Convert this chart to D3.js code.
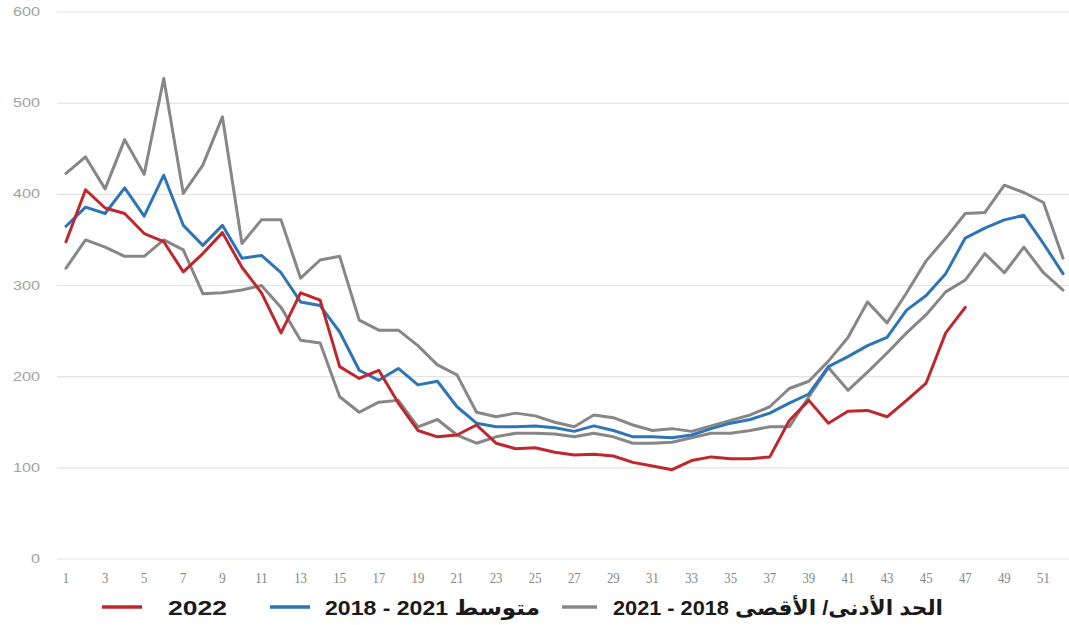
<!DOCTYPE html>
<html>
<head>
<meta charset="utf-8">
<script src="https://cdn.jsdelivr.net/npm/d3@7"></script>
<style>
  html, body { margin: 0; padding: 0; background: #ffffff; }
  svg { display: block; }
</style>
</head>
<body>
<svg id="chart" width="1069" height="625"></svg>
<script>
const weeks = d3.range(1, 53);
const yTicks = [0, 100, 200, 300, 400, 500, 600];
const xTickLabels = d3.range(1, 52, 2);

const series2022 = [348, 405, 385, 379, 357, 348, 315, 335, 358, 320, 292, 248, 292, 284, 211, 198, 207, 171, 141, 134,
  136, 147, 127, 121, 122, 117, 114, 115, 113, 106, 102, 98, 108, 112, 110, 110, 112, 152, 174, 149,
  162, 163, 156, 174, 193, 248, 276];

const seriesAvg = [365, 386, 379, 407, 376, 421, 366, 344, 366, 330, 333, 314, 282, 278, 249, 207, 196, 209, 191, 195,
  167, 149, 145, 145, 146, 144, 140, 146, 141, 134, 134, 133, 136, 143, 149, 153, 160, 171, 181, 211,
  222, 234, 243, 273, 289, 313, 352, 363, 372, 377, 346, 313];

const seriesMax = [423, 441, 406, 460, 422, 527, 401, 432, 485, 346, 372, 372, 308, 328, 332, 262, 251, 251, 234, 213,
  202, 161, 156, 160, 157, 150, 145, 158, 155, 147, 141, 143, 140, 146, 152, 158, 167, 187, 195, 217,
  243, 282, 259, 292, 327, 352, 379, 380, 410, 402, 391, 330];

const seriesMin = [319, 350, 342, 332, 332, 350, 339, 291, 292, 295, 300, 276, 240, 237, 178, 161, 172, 174, 145, 153,
  136, 127, 134, 138, 138, 137, 134, 138, 134, 127, 127, 128, 133, 138, 138, 141, 145, 145, 178, 210,
  185, 205, 226, 248, 268, 293, 306, 335, 314, 342, 314, 295];

const legendLabels = ["2022", "متوسط 2021 - 2018", "الحد الأدنى/ الأقصى 2018 - 2021"];

const colors = { red: "#c0272d", blue: "#2e75b6", gray: "#878787" };

const svg = d3.select("#chart");
const x = d3.scaleLinear().domain([1, 52]).range([66, 1063]);
const y = d3.scaleLinear().domain([0, 600]).range([559, 12]);

// gridlines
svg.append("g").selectAll("line").data(yTicks).join("line")
  .attr("x1", 57).attr("x2", 1069)
  .attr("y1", d => y(d)).attr("y2", d => y(d))
  .attr("stroke", "#e3e3e3").attr("stroke-width", 1.2);

// y labels
svg.append("g").selectAll("text").data(yTicks).join("text")
  .attr("transform", d => `translate(40,${y(d) + 4}) scale(1.35,1)`)
  .attr("text-anchor", "end")
  .attr("font-family", "Liberation Sans, Arial, sans-serif")
  .attr("font-size", 12)
  .attr("fill", "#a3a3a3")
  .text(d => d);

// x labels
svg.append("g").selectAll("text").data(xTickLabels).join("text")
  .attr("transform", d => `translate(${x(d)},583) scale(0.85,1)`)
  .attr("text-anchor", "middle")
  .attr("font-family", "Liberation Serif, Times New Roman, serif")
  .attr("font-size", 15)
  .attr("fill", "#858585")
  .text(d => d);

const line = d3.line().x((d, i) => x(weeks[i])).y(d => y(d));

function drawLine(data, color) {
  svg.append("path").datum(data)
    .attr("fill", "none")
    .attr("stroke", color)
    .attr("stroke-width", 3)
    .attr("stroke-linejoin", "round")
    .attr("stroke-linecap", "round")
    .attr("d", line);
}
drawLine(seriesMax, colors.gray);
drawLine(seriesMin, colors.gray);
drawLine(seriesAvg, colors.blue);
drawLine(series2022, colors.red);

// legend
const lg = svg.append("g");
const legY = 607;
const legFont = "Liberation Sans, DejaVu Sans, Arial, sans-serif";
lg.append("line").attr("x1", 102).attr("x2", 142).attr("y1", legY).attr("y2", legY)
  .attr("stroke", colors.red).attr("stroke-width", 3.5);
lg.append("text").attr("x", 168).attr("y", legY + 8)
  .attr("font-family", legFont).attr("font-weight", "bold").attr("font-size", 21).attr("fill", "#1a1a1a")
  .attr("textLength", 59).attr("lengthAdjust", "spacingAndGlyphs")
  .text(legendLabels[0]);

lg.append("line").attr("x1", 270).attr("x2", 310).attr("y1", legY).attr("y2", legY)
  .attr("stroke", colors.blue).attr("stroke-width", 3.5);
lg.append("text").attr("x", 540).attr("y", legY + 8)
  .attr("direction", "rtl").attr("text-anchor", "start")
  .attr("font-family", legFont).attr("font-weight", "bold").attr("font-size", 21).attr("fill", "#1a1a1a")
  .attr("textLength", 215).attr("lengthAdjust", "spacingAndGlyphs")
  .text(legendLabels[1]);

lg.append("line").attr("x1", 562).attr("x2", 597).attr("y1", legY).attr("y2", legY)
  .attr("stroke", colors.gray).attr("stroke-width", 3.5);
lg.append("text").attr("x", 943).attr("y", legY + 8)
  .attr("direction", "rtl").attr("text-anchor", "start")
  .attr("font-family", legFont).attr("font-weight", "bold").attr("font-size", 21).attr("fill", "#1a1a1a")
  .attr("textLength", 330).attr("lengthAdjust", "spacingAndGlyphs")
  .text(legendLabels[2]);
</script>
</body>
</html>
